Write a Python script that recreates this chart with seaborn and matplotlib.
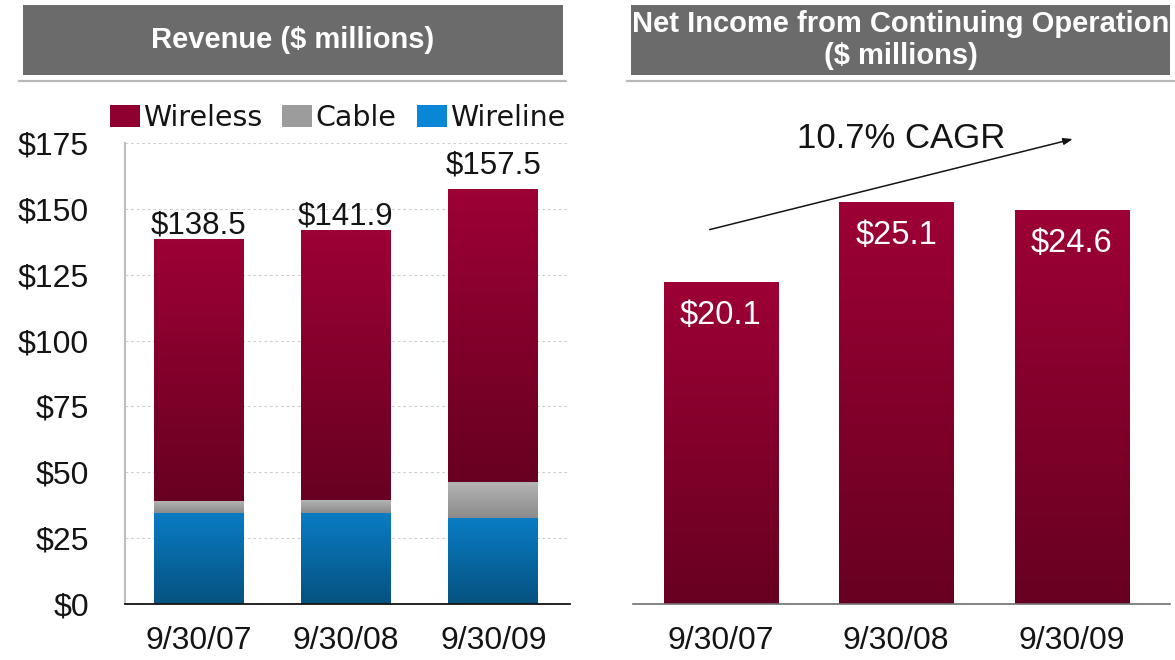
import numpy as np
import pandas as pd
import matplotlib
matplotlib.use("Agg")
import matplotlib.pyplot as plt
from matplotlib.colors import LinearSegmentedColormap
from matplotlib.patches import Rectangle, Patch
from matplotlib.lines import Line2D
import seaborn as sns

# ---- data ($ millions) ----
periods = ["9/30/07", "9/30/08", "9/30/09"]
wireline = [34.5, 34.5, 32.3]
cable = [4.3, 4.6, 13.7]
wireless = [99.7, 102.8, 111.5]
net_income = [20.1, 25.1, 24.6]
revenue_ticks = [0, 25, 50, 75, 100, 125, 150, 175]
cagr_label = "10.7% CAGR"

revenue = pd.DataFrame({"period": periods, "Wireline": wireline,
                        "Cable": cable, "Wireless": wireless})

# ---- style ----
sns.set_style("white")
plt.rcParams["font.family"] = ["Liberation Sans", "DejaVu Sans"]
TEXT = "#141414"

W, H = 1175, 660
fig = plt.figure(figsize=(W / 100, H / 100), dpi=100)
fig.patch.set_facecolor("white")


def fx(px):
    return px / W


def fy(py):
    return 1 - py / H


# vertical gradients: (bottom colour, top colour)
gradients = {
    "Wireless": ("#670021", "#9d0035"),
    "Cable": ("#8a8a8a", "#b4b4b4"),
    "Wireline": ("#05527f", "#0a7cc4"),
}
solid = {"Wireless": "#8f0030", "Cable": "#9c9c9c", "Wireline": "#0a86d6"}
cmaps = {k: LinearSegmentedColormap.from_list(k, v) for k, v in gradients.items()}
ramp = np.linspace(0, 1, 256).reshape(-1, 1)


def shade(ax, patches, lows, highs, cmap):
    """Paint each bar segment with a vertical gradient."""
    for patch, lo, hi in zip(patches, lows, highs):
        x0, w = patch.get_x(), patch.get_width()
        ax.imshow(ramp, extent=(x0, x0 + w, lo, hi), cmap=cmap, origin="lower",
                  aspect="auto", interpolation="bicubic", zorder=2)


# ---- header bars ----
headers = [((23, 563), [("Revenue ($ millions)", 40)]),
           ((631, 1170), [("Net Income from Continuing Operation", 24),
                          ("($ millions)", 56)])]
for (x0, x1), lines in headers:
    fig.patches.append(Rectangle((fx(x0), fy(75)), fx(x1) - fx(x0), fy(5) - fy(75),
                                 transform=fig.transFigure, facecolor="#6b6b6b",
                                 edgecolor="none"))
    for txt, yc in lines:
        fig.text(fx((x0 + x1) / 2), fy(yc), txt, ha="center", va="center",
                 color="white", fontsize=21, fontweight="bold")
for x0, x1 in [(19, 566), (627, 1175)]:
    fig.add_artist(Line2D([fx(x0), fx(x1)], [fy(81), fy(81)], transform=fig.transFigure,
                          color="#b8b8b8", lw=1.6))

# ---- revenue: stacked bars ----
ax_rev = fig.add_axes([fx(125), fy(604), fx(570) - fx(125), fy(143) - fy(604)])
stack_order = ["Wireline", "Cable", "Wireless"]
base = np.zeros(len(periods))
segments = []
for name in stack_order:
    vals = revenue[name].to_numpy(dtype=float)
    segments.append((name, base.copy(), base + vals))
    base = base + vals
totals = base

# tallest cumulative bar first, shorter ones drawn over it
for name, lo, hi in reversed(segments):
    n0 = len(ax_rev.patches)
    sns.barplot(x=periods, y=hi, order=periods, color=solid[name], width=0.61,
                errorbar=None, linewidth=0, zorder=1, ax=ax_rev)
    shade(ax_rev, ax_rev.patches[n0:], lo, hi, cmaps[name])

label_lift = [4, 4, 11]
for i, (tot, lift) in enumerate(zip(totals, label_lift)):
    ax_rev.annotate(f"${tot:.1f}", xy=(i, tot), xytext=(0, lift),
                    textcoords="offset points", ha="center", va="baseline",
                    fontsize=22.5, color=TEXT)

ax_rev.set_xlim(-0.5, 2.52)
ax_rev.set_ylim(0, 175)
ax_rev.set_yticks(revenue_ticks)
ax_rev.set_yticklabels([f"${t}" for t in revenue_ticks])
ax_rev.set_xlabel("")
ax_rev.set_ylabel("")
ax_rev.yaxis.grid(True, linestyle=(0, (2.5, 2.5)), color="#cfcfcf", lw=0.8)
ax_rev.set_axisbelow(True)
ax_rev.tick_params(axis="both", length=0, labelsize=23, colors=TEXT)
ax_rev.tick_params(axis="y", pad=26)
ax_rev.tick_params(axis="x", pad=16)
for side in ("top", "right"):
    ax_rev.spines[side].set_visible(False)
ax_rev.spines["left"].set_color("#bdbdbd")
ax_rev.spines["left"].set_linewidth(1.5)
ax_rev.spines["bottom"].set_color(TEXT)
ax_rev.spines["bottom"].set_linewidth(1.3)
ax_rev.spines["bottom"].set_zorder(3)

legend_handles = [Patch(facecolor=solid[n], edgecolor="none") for n in
                  ["Wireless", "Cable", "Wireline"]]
fig.legend(legend_handles, ["Wireless", "Cable", "Wireline"], loc="center left",
           bbox_to_anchor=(fx(110), fy(118)), ncol=3, frameon=False,
           prop={"family": "DejaVu Sans", "size": 20.5}, handlelength=1.05,
           handleheight=0.8, handletextpad=0.12, columnspacing=0.7,
           borderpad=0, borderaxespad=0, labelcolor=TEXT)

# ---- net income bars ----
ax_ni = fig.add_axes([fx(633), fy(604), fx(1170) - fx(633), fy(100) - fy(604)])
n0 = len(ax_ni.patches)
sns.barplot(x=periods, y=net_income, order=periods, color=solid["Wireless"],
            width=0.65, errorbar=None, linewidth=0, zorder=1, ax=ax_ni)
shade(ax_ni, ax_ni.patches[n0:], np.zeros(len(net_income)), net_income,
      cmaps["Wireless"])

for i, v in enumerate(net_income):
    ax_ni.annotate(f"${v:.1f}", xy=(i, v), xytext=(0, -30),
                   textcoords="offset points", ha="center", va="baseline",
                   fontsize=23.5, color="white", zorder=4)

ax_ni.annotate("", xy=(2.006, 29.06), xytext=(-0.063, 23.4),
               arrowprops=dict(arrowstyle="-|>,head_length=0.55,head_width=0.2",
                               color=TEXT, lw=1.1, shrinkA=0, shrinkB=0),
               annotation_clip=False)
ax_ni.text(1.03, 28.5, cagr_label, ha="center", va="baseline", fontsize=25,
           color=TEXT)

ax_ni.set_xlim(-0.5, 2.56)
ax_ni.set_ylim(0, 31.5)
ax_ni.set_yticks([])
ax_ni.set_xlabel("")
ax_ni.set_ylabel("")
ax_ni.tick_params(axis="x", length=0, labelsize=23, colors=TEXT, pad=16)
for side in ("top", "right", "left"):
    ax_ni.spines[side].set_visible(False)
ax_ni.spines["bottom"].set_color("#707070")
ax_ni.spines["bottom"].set_linewidth(1.2)
ax_ni.spines["bottom"].set_zorder(3)

fig.savefig("out.png", dpi=100, facecolor="white")
